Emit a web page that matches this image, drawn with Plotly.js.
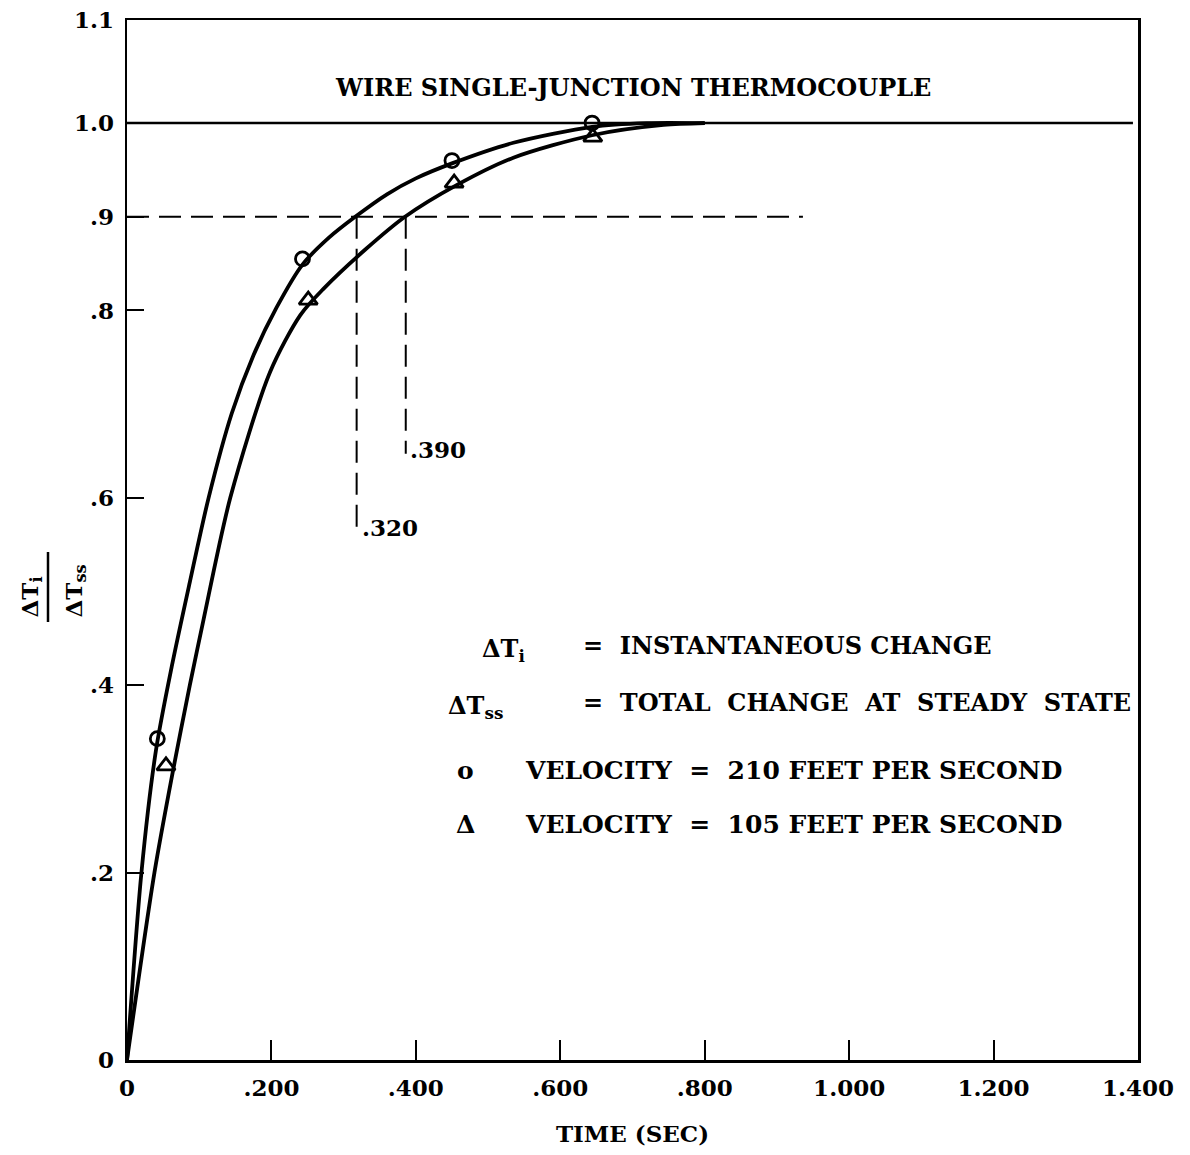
<!DOCTYPE html>
<html>
<head>
<meta charset="utf-8">
<script src="https://cdn.plot.ly/plotly-3.0.1.min.js"></script>
<style>body{margin:0;background:#fff;}</style>
</head>
<body>
<div id="chart" style="width:1190px;height:1155px;"></div>
<script>
// ---- data ----
// fitted curve, velocity 210 ft/s
const curveTime210  = [0, 0.020, 0.040, 0.062, 0.087, 0.113, 0.145, 0.175, 0.207, 0.243, 0.280, 0.316, 0.360, 0.400, 0.450, 0.535, 0.644, 0.720, 0.800];
const curveRatio210 = [0, 0.200, 0.330, 0.420, 0.510, 0.600, 0.690, 0.752, 0.803, 0.849, 0.878, 0.900, 0.924, 0.941, 0.957, 0.979, 0.996, 1.000, 1.000];
// fitted curve, velocity 105 ft/s
const curveTime105  = [0, 0.038, 0.064, 0.087, 0.106, 0.143, 0.198, 0.240, 0.272, 0.330, 0.385, 0.457, 0.535, 0.644, 0.743, 0.800];
const curveRatio105 = [0, 0.200, 0.310, 0.400, 0.470, 0.600, 0.734, 0.795, 0.823, 0.865, 0.900, 0.934, 0.963, 0.987, 0.998, 1.000];
// measured points
const obsTime210  = [0.042, 0.243, 0.450, 0.644];
const obsRatio210 = [0.343, 0.855, 0.960, 1.000];
const obsTime105  = [0.054, 0.251, 0.453, 0.645];
const obsRatio105 = [0.314, 0.811, 0.936, 0.985];
// reference lines
const steadyTime  = [0, 1.393];
const steadyRatio = [1.0, 1.0];
const ninetyTime  = [0, 0.936];
const ninetyRatio = [0.9, 0.9];
const t90_210 = [0.318, 0.318];
const t90_210Ratio = [0.9, 0.561];
const t90_105 = [0.386, 0.386];
const t90_105Ratio = [0.9, 0.647];
// ticks
const xTickVals = [0, 0.2, 0.4, 0.6, 0.8, 1.0, 1.2, 1.4];
const xTickText = ['0', '.200', '.400', '.600', '.800', '1.000', '1.200', '1.400'];
const yTickVals = [0, 0.2, 0.4, 0.6, 0.8, 0.9, 1.0, 1.11];
const yTickText = ['0', '.2', '.4', '.6', '.8', '.9', '1.0', '1.1'];

// ---- layout helpers (pixel -> paper) ----
const W = 1190, H = 1155, L = 127, R = 1138, T = 20, B = 1060;
const px = p => (p - L) / (R - L);
const py = q => (B - q) / (B - T);
const FF = 'DejaVu Serif, serif';
const f = (s) => ({family: FF, size: s, color: '#000', weight: 700});

const blk = '#000';
const traces = [
  {x: steadyTime, y: steadyRatio, mode: 'lines', line: {color: blk, width: 2.5}, hoverinfo: 'skip'},
  {x: ninetyTime, y: ninetyRatio, mode: 'lines', line: {color: blk, width: 2, dash: '22px,10px'}, hoverinfo: 'skip'},
  {x: t90_210, y: t90_210Ratio, mode: 'lines', line: {color: blk, width: 2, dash: '22px,10px'}, hoverinfo: 'skip'},
  {x: t90_105, y: t90_105Ratio, mode: 'lines', line: {color: blk, width: 2, dash: '22px,10px'}, hoverinfo: 'skip'},
  {x: curveTime210, y: curveRatio210, mode: 'lines', line: {color: blk, width: 3.8, shape: 'spline', smoothing: 0.8}},
  {x: curveTime105, y: curveRatio105, mode: 'lines', line: {color: blk, width: 3.8, shape: 'spline', smoothing: 0.8}},
  {x: obsTime210, y: obsRatio210, mode: 'markers', marker: {symbol: 'circle-open', size: 14, color: blk, line: {width: 2.8, color: blk}}},
  {x: obsTime105, y: obsRatio105, mode: 'markers', marker: {symbol: 'triangle-up-open', size: 16, color: blk, line: {width: 2.8, color: blk}}}
];

const ann = (text, x, y, size, xanchor, extra) => Object.assign({
  text: text, xref: 'paper', yref: 'paper', x: px(x), y: py(y),
  xanchor: xanchor || 'center', yanchor: 'middle', showarrow: false, font: f(size)
}, extra || {});

const annotations = [
  ann('WIRE SINGLE-JUNCTION THERMOCOUPLE', 633, 87, 24),
  ann('.320', 360, 527, 23, 'left'),
  ann('.390', 408, 449, 23, 'left'),
  ann('ΔT<sub>i</sub>', 480, 650, 24, 'left'),
  ann('=  INSTANTANEOUS CHANGE', 581, 645, 24, 'left'),
  ann('ΔT<sub>ss</sub>', 446, 707, 24, 'left'),
  ann('=  TOTAL  CHANGE  AT  STEADY  STATE', 581, 702, 24, 'left'),
  ann('o', 465, 770, 25, 'center'),
  ann('VELOCITY  =  210 FEET PER SECOND', 523, 770, 25, 'left'),
  ann('Δ', 465, 824, 25, 'center'),
  ann('VELOCITY  =  105 FEET PER SECOND', 523, 824, 25, 'left'),
  ann('ΔT<sub>i</sub>', 31, 620, 23, 'center', {textangle: -90, yanchor: 'bottom'}),
  ann('ΔT<sub>ss</sub>', 75, 620, 23, 'center', {textangle: -90, yanchor: 'bottom'})
];

const layout = {
  width: W, height: H,
  margin: {l: L, r: W - R, t: T, b: H - B, pad: 0},
  paper_bgcolor: '#fff', plot_bgcolor: '#fff',
  showlegend: false,
  xaxis: {
    range: [0, 1.4], tickvals: xTickVals, ticktext: xTickText,
    ticks: 'inside', ticklen: 20, tickwidth: 2, tickcolor: blk,
    showline: true, linewidth: 2.5, linecolor: blk, mirror: true,
    showgrid: false, zeroline: false, tickfont: f(23), ticklabelstandoff: 6,
    title: {text: 'TIME (SEC)', font: f(23), standoff: 26}
  },
  yaxis: {
    range: [0, 1.11], tickvals: yTickVals, ticktext: yTickText,
    ticks: 'inside', ticklen: 17, tickwidth: 2, tickcolor: blk,
    showline: true, linewidth: 2.5, linecolor: blk, mirror: true,
    showgrid: false, zeroline: false, tickfont: f(23), ticklabelstandoff: 6
  },
  shapes: [
    {type: 'line', xref: 'paper', yref: 'paper', x0: px(48), x1: px(48), y0: py(552), y1: py(622), line: {color: blk, width: 2.5}}
  ],
  annotations: annotations
};

Plotly.newPlot('chart', traces, layout, {displayModeBar: false, staticPlot: true});
</script>
</body>
</html>
